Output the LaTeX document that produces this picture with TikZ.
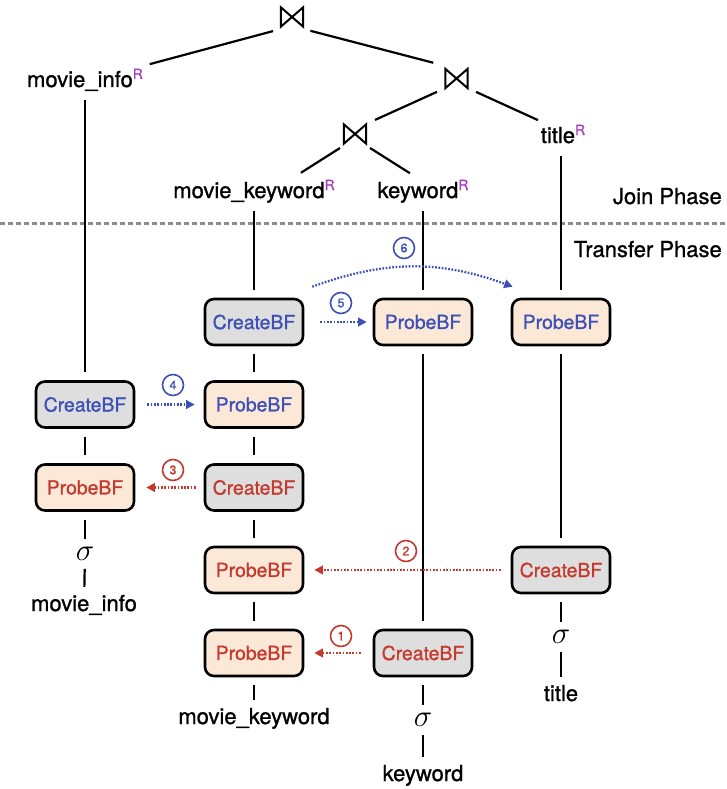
\documentclass[tikz,border=0pt]{standalone}
\usepackage{graphicx}
\usepackage{fontspec}
\setmainfont{TeX Gyre Heros}[FakeBold=1]
\usetikzlibrary{arrows.meta,calc}

\definecolor{bfblue}{HTML}{3D50B4}
\definecolor{bfred}{HTML}{C43A2E}
\definecolor{boxgray}{HTML}{DEDEDE}
\definecolor{boxpeach}{HTML}{FBE8D7}
\definecolor{rpurple}{HTML}{A63CC0}
\definecolor{sepgray}{HTML}{8C8C8C}

% superscript marker on relations
\newcommand\relmark{\raisebox{8pt}{\fontsize{14}{14}\selectfont\color{rpurple}R}}
% selection operator
\newcommand\selop{\scalebox{1.5}{$\sigma$}}

\begin{document}
\begin{tikzpicture}[x=1pt,y=-1pt,
  edge/.style={line width=2.2pt},
  bfbox/.style={draw, line width=2.6pt, rounded corners=9pt, minimum width=98pt,
    minimum height=46pt, inner sep=0pt, font=\fontsize{19.4}{23}\selectfont},
  create/.style={bfbox, fill=boxgray},
  probe/.style={bfbox, fill=boxpeach},
  lbl/.style={inner sep=0pt, text height=16pt, text depth=5pt, anchor=base,
    font=\fontsize{22}{26}\selectfont},
  joinop/.style={minimum width=22pt, minimum height=19pt, inner sep=0pt},
  sig/.style={inner sep=0pt, font=\fontsize{20}{22}\selectfont},
  flow/.style={line width=2.3pt, dash pattern=on 1.7pt off 1.6pt,
    -{Triangle[length=8.5pt,width=8.5pt]}},
  num/.style={circle, draw, line width=1.6pt, minimum size=21pt, inner sep=0pt,
    font=\fontsize{12.5}{12.5}\selectfont},
  vline/.style={edge, shorten <=8pt, shorten >=8pt},
]
\useasboundingbox (0,0) rectangle (726,789);

% join operators
\node[joinop] (j1) at (292,17) {};
\node[joinop] (j2) at (456.5,78.5) {};
\node[joinop] (j3) at (355,134) {};
\foreach \j in {j1,j2,j3}
  \draw[line width=2pt, line join=miter]
    (\j.north west) -- (\j.south west) -- (\j.north east) -- (\j.south east) -- cycle;

% relations in the join tree
\node[lbl] (mir) at (85,87) {movie\_info\relmark};
\node[lbl] (tr) at (563,143) {title\relmark};
\node[lbl] (mkr) at (254,198) {movie\_keyword\relmark};
\node[lbl] (kwr) at (423,198) {keyword\relmark};

\draw[edge, shorten <=19.6pt, shorten >=67pt] ($(j1)+(0,9)$) -- (mir.center);
\draw[edge, shorten <=19pt, shorten >=24pt] ($(j1)+(0,9)$) -- (j2.north);
\draw[edge, shorten <=21.5pt, shorten >=22pt] ($(j2)+(0,4.5)$) -- ($(j3)+(0,-5)$);
\draw[edge, shorten <=21.5pt, shorten >=27.5pt] ($(j2)+(0,4.5)$) -- ($(tr.center)+(0,-6)$);
\draw[edge, shorten <=17.8pt, shorten >=55.5pt] ($(j3)+(0,4.5)$) -- ($(mkr.center)+(0,10)$);
\draw[edge, shorten <=17.8pt, shorten >=15.5pt] ($(j3)+(0,4.5)$) -- ($(kwr.center)+(0,-11)$);

% phase separator
\draw[line width=3pt, sepgray, dash pattern=on 4.5pt off 3.5pt] (0,223) -- (726,223);
\node[lbl, anchor=base east] (phj) at (722,204) {Join Phase};
\node[lbl, anchor=base east] (pht) at (722,257) {Transfer Phase};

% bloom filter steps
\node[create, text=bfblue] (mkc1) at (254,322) {CreateBF};
\node[probe, text=bfblue] (kwp1) at (423,322) {ProbeBF};
\node[probe, text=bfblue] (tp1) at (561,322) {ProbeBF};
\node[create, text=bfblue] (lc2) at (85,404.5) {CreateBF};
\node[probe, text=bfblue] (mkp2) at (254,404.5) {ProbeBF};
\node[probe, text=bfred] (lp3) at (85,487.5) {ProbeBF};
\node[create, text=bfred] (mkc3) at (254,487.5) {CreateBF};
\node[probe, text=bfred] (mkp4) at (254,570) {ProbeBF};
\node[create, text=bfred] (tc4) at (561,570) {CreateBF};
\node[probe, text=bfred] (mkp5) at (254,653) {ProbeBF};
\node[create, text=bfred] (kwc5) at (423,653) {CreateBF};

% selections and base relations
\node[sig] (ls) at (85,554) {\selop};
\node[sig] (ts) at (561,637) {\selop};
\node[sig] (kws) at (423,720) {\selop};
\node[lbl] (mib) at (84,611) {movie\_info};
\node[lbl] (mkb) at (254,724) {movie\_keyword};
\node[lbl] (tb) at (561,701) {title};
\node[lbl] (kwb) at (423,781) {keyword};

% plan edges
\draw[vline] (mir) -- (lc2);
\draw[vline] (lc2) -- (lp3);
\draw[vline] (lp3) -- (ls);
\draw[vline] (ls) -- (mib);
\draw[vline] (mkr) -- (mkc1);
\draw[vline] (mkc1) -- (mkp2);
\draw[vline] (mkp2) -- (mkc3);
\draw[vline] (mkc3) -- (mkp4);
\draw[vline] (mkp4) -- (mkp5);
\draw[vline] (mkp5) -- (mkb);
\draw[vline] (kwr) -- (kwp1);
\draw[vline] (kwp1) -- (kwc5);
\draw[vline] (kwc5) -- (kws);
\draw[vline] (kws) -- (kwb);
\draw[vline] (tr.south -| tp1.north) -- (tp1.north);
\draw[vline] (tp1) -- (tc4);
\draw[vline] (tc4) -- (ts);
\draw[vline] (ts) -- (tb);

% filter transfers
\draw[flow, bfred, shorten <=12pt, shorten >=10pt] (kwc5.west) -- (mkp5.east);
\draw[flow, bfred, shorten <=10pt, shorten >=10pt] (tc4.west) -- (mkp4.east);
\draw[flow, bfred, shorten <=8pt, shorten >=11pt] (mkc3.west) -- (lp3.east);
\draw[flow, bfblue, shorten <=12pt, shorten >=9pt] (lc2.east) -- (mkp2.west);
\draw[flow, bfblue, shorten <=16pt, shorten >=6pt] (mkc1.east) -- (kwp1.west);
\draw[flow, bfblue] ([shift={(8,-11)}]mkc1.north east) to[bend left=20]
  ([shift={(2,-11)}]tp1.north west);

\node[num, bfred] (n1) at (341,636) {1};
\node[num, bfred] (n2) at (406,551) {2};
\node[num, bfred] (n3) at (173,470) {3};
\node[num, bfblue] (n4) at (173,385) {4};
\node[num, bfblue] (n5) at (341,303) {5};
\node[num, bfblue] (n6) at (404,248) {6};
\end{tikzpicture}
\end{document}
